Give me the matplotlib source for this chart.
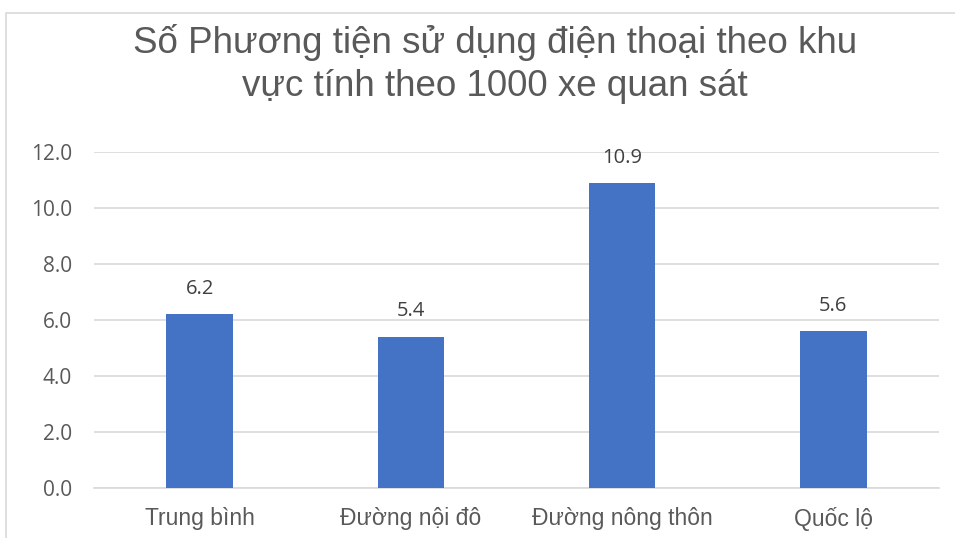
import matplotlib
matplotlib.use("Agg")
import matplotlib.pyplot as plt
from matplotlib.patches import Rectangle

categories = ["Trung bình", "Đường nội đô", "Đường nông thôn", "Quốc lộ"]
values = [6.2, 5.4, 10.9, 5.6]
yticks = [0, 2, 4, 6, 8, 10, 12]
title = "Số Phương tiện sử dụng điện thoại theo khu\nvực tính theo 1000 xe quan sát"

text_color = "#595959"
bar_color = "#4472C4"
grid_color = "#d9d9d9"

fig = plt.figure(figsize=(9.55, 5.38), dpi=100)
ax = fig.add_axes([94 / 955, 1 - 487.7 / 538, (939 - 94) / 955, (487.7 - 152.3) / 538])

# chart area border (cut off at right/bottom in the reference)
fig.patches.append(Rectangle((6 / 955, -0.1), 1.2, 1 - 13 / 538 + 0.1,
                             transform=fig.transFigure, fill=False,
                             edgecolor=grid_color, linewidth=1.2))

x = range(len(categories))
ax.bar(x, values, width=0.315, color=bar_color, zorder=3)
for xi, v in zip(x, values):
    ax.annotate(f"{v:.1f}", (xi, v), xytext=(0, 11), textcoords="offset points",
                ha="center", va="bottom", fontsize=14.5, color="#404040",
                family="Open Sans")

ax.set_xlim(-0.5, len(categories) - 0.5)
ax.set_ylim(0, 12)
ax.set_yticks(yticks)
ax.set_yticklabels([f"{t:.1f}" for t in yticks], family="Open Sans", fontsize=15,
                   color=text_color)
ax.set_xticks(list(x))
ax.set_xticklabels(categories, family="Liberation Sans", fontsize=16.5, color=text_color)
ax.tick_params(axis="y", length=0, pad=16)
ax.tick_params(axis="x", length=0, pad=14)
ax.grid(axis="y", color=grid_color, linewidth=1.2, zorder=0)
for s in ["top", "right", "left"]:
    ax.spines[s].set_visible(False)
ax.spines["bottom"].set_color(grid_color)
ax.spines["bottom"].set_linewidth(1.2)

fig.text(495 / 955, 1 - 64 / 538, title, ha="center", va="center",
         fontsize=26.5, color=text_color, family="Liberation Sans", linespacing=1.3)

fig.savefig("out.png", dpi=100)
